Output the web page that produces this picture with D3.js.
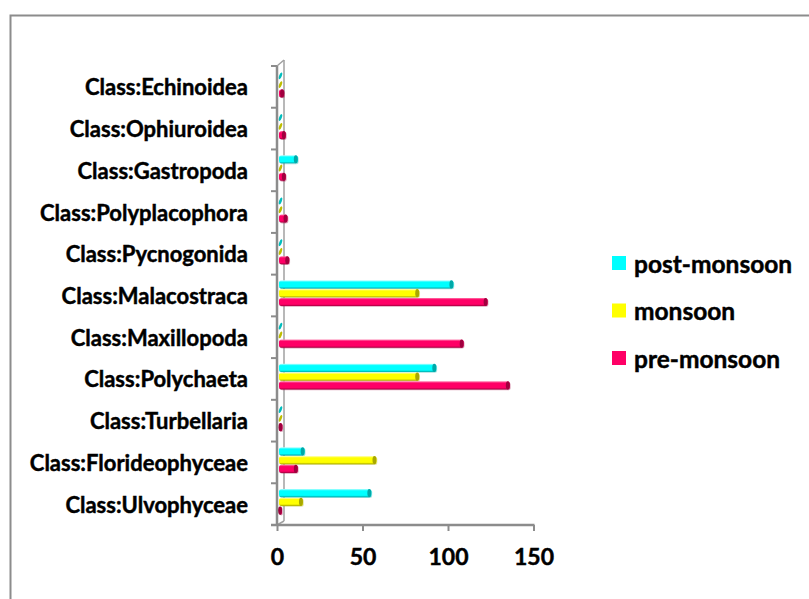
<!DOCTYPE html>
<html>
<head>
<meta charset="utf-8">
<script src="https://cdn.jsdelivr.net/npm/d3@7/dist/d3.min.js"></script>
<style>
  html, body { margin: 0; padding: 0; background: #fff; }
  svg { display: block; }
  text { font-family: Lato, "Open Sans", sans-serif; font-weight: bold; fill: #000; stroke: #000; stroke-width: 0.45px; }
</style>
</head>
<body>
<svg id="chart" width="809" height="599"></svg>
<script>
// ---- data (bottom to top, as in the chart) ----
const categories = [
  "Class:Ulvophyceae", "Class:Florideophyceae", "Class:Turbellaria",
  "Class:Polychaeta", "Class:Maxillopoda", "Class:Malacostraca",
  "Class:Pycnogonida", "Class:Polyplacophora", "Class:Gastropoda",
  "Class:Ophiuroidea", "Class:Echinoidea"
];
const seriesNames = ["post-monsoon", "monsoon", "pre-monsoon"];
const postMonsoon = [54, 15, 0, 92, 0, 102, 0, 0, 11, 0, 0];
const monsoon     = [14, 57, 0, 82, 0, 82, 0, 0, 0, 0, 0];
const preMonsoon  = [1, 11, 2, 135, 108, 122, 6, 5, 4, 4, 3];
const xTicks = [0, 50, 100, 150];

const seriesValues = [postMonsoon, monsoon, preMonsoon];
const colors = ["#00FFFF", "#FFFF00", "#FF0066"];
const darks  = ["#00A8A8", "#A8A800", "#A0003E"];
const lights = ["#B8FFFF", "#FFFFC0", "#FF80B0"];

const svg = d3.select("#chart");

// frame
svg.append("path").attr("d", "M10.5,599 L10.5,15.5 L809,15.5")
  .attr("fill", "none").attr("stroke", "#8c8c8c").attr("stroke-width", 2);

const x = d3.scaleLinear().domain([0, 150]).range([277, 533.5]);
const y = d3.scaleBand().domain(categories).range([525, 66]).paddingInner(0).paddingOuter(0);
const bw = y.bandwidth();
const inner = d3.scaleBand().domain(seriesNames).range([bw * 0.13, bw * 0.76]);
const depth = { dx: 7, dy: -6 };

// gradients
const defs = svg.append("defs");
seriesNames.forEach((s, i) => {
  const g = defs.append("linearGradient").attr("id", "g" + i)
    .attr("x1", 0).attr("y1", 0).attr("x2", 0).attr("y2", 1);
  g.append("stop").attr("offset", "0%").attr("stop-color", lights[i]);
  g.append("stop").attr("offset", "22%").attr("stop-color", colors[i]);
  g.append("stop").attr("offset", "78%").attr("stop-color", colors[i]);
  g.append("stop").attr("offset", "100%").attr("stop-color", darks[i]);
});

// back wall line
svg.append("line")
  .attr("x1", x(0) + depth.dx).attr("y1", 66 + depth.dy)
  .attr("x2", x(0) + depth.dx).attr("y2", 525 + depth.dy + 2)
  .attr("stroke", "#a0a0a0").attr("stroke-width", 1.5);
svg.append("line")
  .attr("x1", x(0)).attr("y1", 66)
  .attr("x2", x(0) + depth.dx).attr("y2", 66 + depth.dy)
  .attr("stroke", "#a0a0a0").attr("stroke-width", 1.5);
svg.append("line")
  .attr("x1", x(0)).attr("y1", 525)
  .attr("x2", x(0) + depth.dx).attr("y2", 525 + depth.dy + 2)
  .attr("stroke", "#a0a0a0").attr("stroke-width", 1.5);

// bars
const gBars = svg.append("g");
categories.forEach((c, ci) => {
  seriesNames.forEach((s, si) => {
    const v = seriesValues[si][ci];
    const y0 = y(c) + inner(s);
    const h = inner.bandwidth();
    const x0 = x(0) + 2;
    const x1 = x(v) + 2;
    if (v > 0) {
      const len = Math.max(x1 - x0, 3);
      gBars.append("rect")
        .attr("x", x0).attr("y", y0 + 0.3)
        .attr("width", len).attr("height", h - 0.6)
        .attr("rx", 2.5).attr("ry", 2.5)
        .attr("fill", darks[si]).attr("opacity", 0.35)
        .attr("transform", "translate(0.8,0.8)");
      gBars.append("rect")
        .attr("x", x0).attr("y", y0 + 0.3)
        .attr("width", len).attr("height", h - 0.6)
        .attr("rx", 2.5).attr("ry", 2.5)
        .attr("fill", "url(#g" + si + ")");
      gBars.append("ellipse")
        .attr("cx", x0 + len - 2).attr("cy", y0 + h / 2)
        .attr("rx", 2).attr("ry", h / 2 - 0.3)
        .attr("fill", darks[si]);
    } else {
      gBars.append("ellipse")
        .attr("cx", x0 + 1.5).attr("cy", y0 + h / 2)
        .attr("rx", 1.3).attr("ry", h / 2 - 0.8)
        .attr("transform", `rotate(20, ${x0 + 1.5}, ${y0 + h / 2})`)
        .attr("fill", si === 0 ? "#00BEBE" : "#BEBE00");
    }
  });
});

// y axis (front)
svg.append("line").attr("x1", x(0)).attr("x2", x(0)).attr("y1", 66).attr("y2", 525)
  .attr("stroke", "#8c8c8c").attr("stroke-width", 2.5);
const yTickPos = categories.map(c => y(c)).concat([66]);
svg.selectAll(".ytick").data(yTickPos).enter().append("line")
  .attr("x1", x(0) - 6).attr("x2", x(0)).attr("y1", d => d).attr("y2", d => d)
  .attr("stroke", "#8c8c8c").attr("stroke-width", 2);

svg.selectAll(".ylab").data(categories).enter().append("text")
  .attr("x", 248).attr("y", d => y(d) + bw / 2)
  .attr("text-anchor", "end").attr("dominant-baseline", "central")
  .style("font-size", "22px")
  .text(d => d);

// x axis
const xAxis = d3.axisBottom(x).tickValues(xTicks).tickSize(6).tickPadding(18);
const gx = svg.append("g").attr("transform", "translate(0,525)").call(xAxis);
gx.select(".domain").attr("stroke", "#8c8c8c").attr("stroke-width", 2.5)
  .attr("d", `M${x(0) - 6},0H${x(150) + 1}`);
gx.selectAll(".tick line").attr("stroke", "#8c8c8c").attr("stroke-width", 2);
gx.selectAll(".tick text").style("font-size", "23px").style("font-family", "Lato, sans-serif")
  .style("font-weight", "bold").attr("fill", "#000").attr("stroke", "#000").attr("stroke-width", 0.45);

// legend
const legend = svg.append("g");
seriesNames.forEach((s, i) => {
  const ly = 263 + i * 47.5;
  legend.append("rect").attr("x", 612).attr("y", ly - 7).attr("width", 14).attr("height", 14)
    .attr("fill", colors[i]).attr("stroke", "none");
  legend.append("text").attr("x", 634).attr("y", ly)
    .attr("dominant-baseline", "central").style("font-size", "24.5px").text(s);
});
</script>
</body>
</html>
